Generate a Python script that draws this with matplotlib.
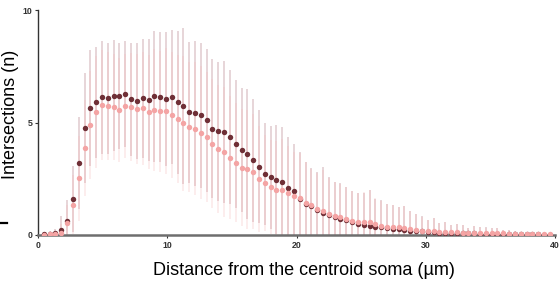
import matplotlib.pyplot as plt
from matplotlib.lines import Line2D

plt.rcParams['font.family'] = ['Liberation Sans', 'DejaVu Sans']

# radius step 0.45 µm
step = 0.45
n_points = 88
distance = [round(step * (i + 1), 2) for i in range(n_points)]

# group 1 (dark)
mean_dark = [
    0.03, 0.05, 0.08, 0.22, 0.64, 1.60, 3.19, 4.74, 5.64, 5.90,
    6.12, 6.07, 6.20, 6.19, 6.27, 6.04, 5.97, 6.07, 6.00, 6.16,
    6.15, 6.05, 6.13, 5.89, 5.73, 5.46, 5.41, 5.32, 5.09, 4.72,
    4.61, 4.58, 4.35, 4.05, 3.78, 3.60, 3.32, 3.04, 2.71, 2.56,
    2.46, 2.36, 2.11, 1.94, 1.62, 1.40, 1.28, 1.12, 0.98, 0.90,
    0.78, 0.70, 0.66, 0.58, 0.50, 0.45, 0.42, 0.36, 0.34, 0.31,
    0.28, 0.27, 0.22, 0.20, 0.17, 0.16, 0.14, 0.13, 0.11, 0.10,
    0.10, 0.09, 0.08, 0.08, 0.07, 0.06, 0.06, 0.05, 0.05, 0.05,
    0.04, 0.04, 0.04, 0.03, 0.03, 0.03, 0.02, 0.02,
]
sd_dark = [
    0.10, 0.15, 0.20, 0.62, 0.92, 1.48, 2.04, 2.45, 2.58, 2.47,
    2.52, 2.48, 2.47, 2.36, 2.37, 2.51, 2.58, 2.63, 2.73, 2.92,
    2.89, 2.98, 2.98, 3.19, 3.46, 3.13, 3.23, 3.23, 3.16, 3.09,
    3.09, 3.15, 2.98, 2.84, 2.77, 2.90, 2.74, 2.52, 2.28, 2.28,
    2.41, 2.45, 2.26, 2.10, 2.08, 1.86, 1.68, 1.69, 2.06, 1.69,
    1.59, 1.60, 1.49, 1.39, 1.38, 1.40, 1.58, 1.22, 1.21, 1.07,
    1.05, 0.99, 1.06, 0.88, 0.76, 0.68, 0.53, 0.64, 0.41, 0.50,
    0.34, 0.39, 0.36, 0.22, 0.33, 0.31, 0.28, 0.25, 0.25, 0.17,
    0.18, 0.15, 0.11, 0.12, 0.07, 0.07, 0.08, 0.05,
]

# group 2 (light)
mean_light = [
    0.02, 0.03, 0.05, 0.10, 0.55, 1.35, 2.52, 3.87, 4.90, 5.47,
    5.79, 5.73, 5.69, 5.56, 5.73, 5.67, 5.60, 5.63, 5.47, 5.56,
    5.50, 5.49, 5.32, 5.14, 4.96, 4.80, 4.72, 4.55, 4.36, 4.06,
    3.83, 3.69, 3.44, 3.21, 2.98, 2.92, 2.81, 2.50, 2.31, 2.13,
    2.00, 2.00, 1.86, 1.72, 1.64, 1.44, 1.32, 1.16, 1.05, 0.95,
    0.84, 0.78, 0.72, 0.64, 0.58, 0.60, 0.58, 0.50, 0.42, 0.37,
    0.35, 0.34, 0.32, 0.26, 0.22, 0.20, 0.17, 0.16, 0.14, 0.13,
    0.12, 0.12, 0.10, 0.10, 0.09, 0.08, 0.08, 0.08, 0.07, 0.07,
    0.06, 0.06, 0.06, 0.05, 0.05, 0.05, 0.05, 0.04,
]
sd_light = [
    0.08, 0.12, 0.15, 0.40, 0.80, 1.30, 1.90, 2.15, 2.40, 2.50,
    2.45, 2.40, 2.35, 2.30, 2.30, 2.40, 2.45, 2.50, 2.55, 2.70,
    2.70, 2.80, 2.80, 2.85, 3.00, 2.90, 2.95, 2.95, 2.90, 2.87,
    2.85, 2.90, 2.75, 2.65, 2.60, 2.65, 2.55, 2.35, 2.15, 2.10,
    2.20, 2.25, 2.10, 1.95, 2.00, 1.80, 1.60, 1.60, 1.85, 1.60,
    1.50, 1.50, 1.40, 1.30, 1.30, 1.30, 1.40, 1.15, 1.10, 1.00,
    1.00, 0.92, 0.95, 0.80, 0.70, 0.62, 0.50, 0.58, 0.40, 0.46,
    0.32, 0.35, 0.33, 0.22, 0.30, 0.28, 0.25, 0.22, 0.22, 0.16,
    0.16, 0.14, 0.10, 0.10, 0.07, 0.07, 0.07, 0.05,
]

x_ticks = [0, 10, 20, 30, 40]
y_ticks = [0, 5, 10]

fig = plt.figure(figsize=(5.6, 2.87), dpi=100)
ax = fig.add_axes([38 / 560, 52 / 287, 517 / 560, 225 / 287])

# error bars
ax.errorbar(distance, mean_dark, yerr=sd_dark, fmt="none",
            ecolor="#e2cdd1", elinewidth=1.3, alpha=0.9, zorder=1)
ax.errorbar(distance, mean_light, yerr=sd_light, fmt="none",
            ecolor="#f7b8b8", elinewidth=1.3, alpha=0.28, zorder=2)

# means
ax.plot(distance, mean_dark, "o", color="#6f2f36", markersize=3.9,
        markeredgewidth=0, zorder=3)
ax.plot(distance, mean_light, "o", color="#f4a4a4", markersize=3.9,
        markeredgewidth=0, zorder=4)

ax.set_xlim(0, 40)
ax.set_ylim(0, 10)
ax.set_xticks(x_ticks)
ax.set_yticks(y_ticks)

for side in ["top", "right"]:
    ax.spines[side].set_visible(False)
ax.spines["left"].set_color("#333333")
ax.spines["left"].set_linewidth(1.0)
ax.spines["bottom"].set_color("#6e6e6e")
ax.spines["bottom"].set_linewidth(1.8)

ax.tick_params(axis="both", labelsize=6.3, colors="#333333", length=2.5,
               width=0.8, pad=1.5)
for lab in ax.get_xticklabels() + ax.get_yticklabels():
    lab.set_fontweight("bold")

ax.set_xlabel("Distance from the centroid soma (µm)", fontsize=13)
ax.set_ylabel("Intersections (n)", fontsize=13)
ax.xaxis.set_label_coords(0.514, -0.118)
ax.yaxis.set_label_coords(-0.036, 0.535)

# small stray mark at the left edge
fig.add_artist(Line2D([0.0, 0.013], [1 - 223 / 287, 1 - 223 / 287],
                      color="black", linewidth=1.6))

fig.savefig("out.png", dpi=100)
